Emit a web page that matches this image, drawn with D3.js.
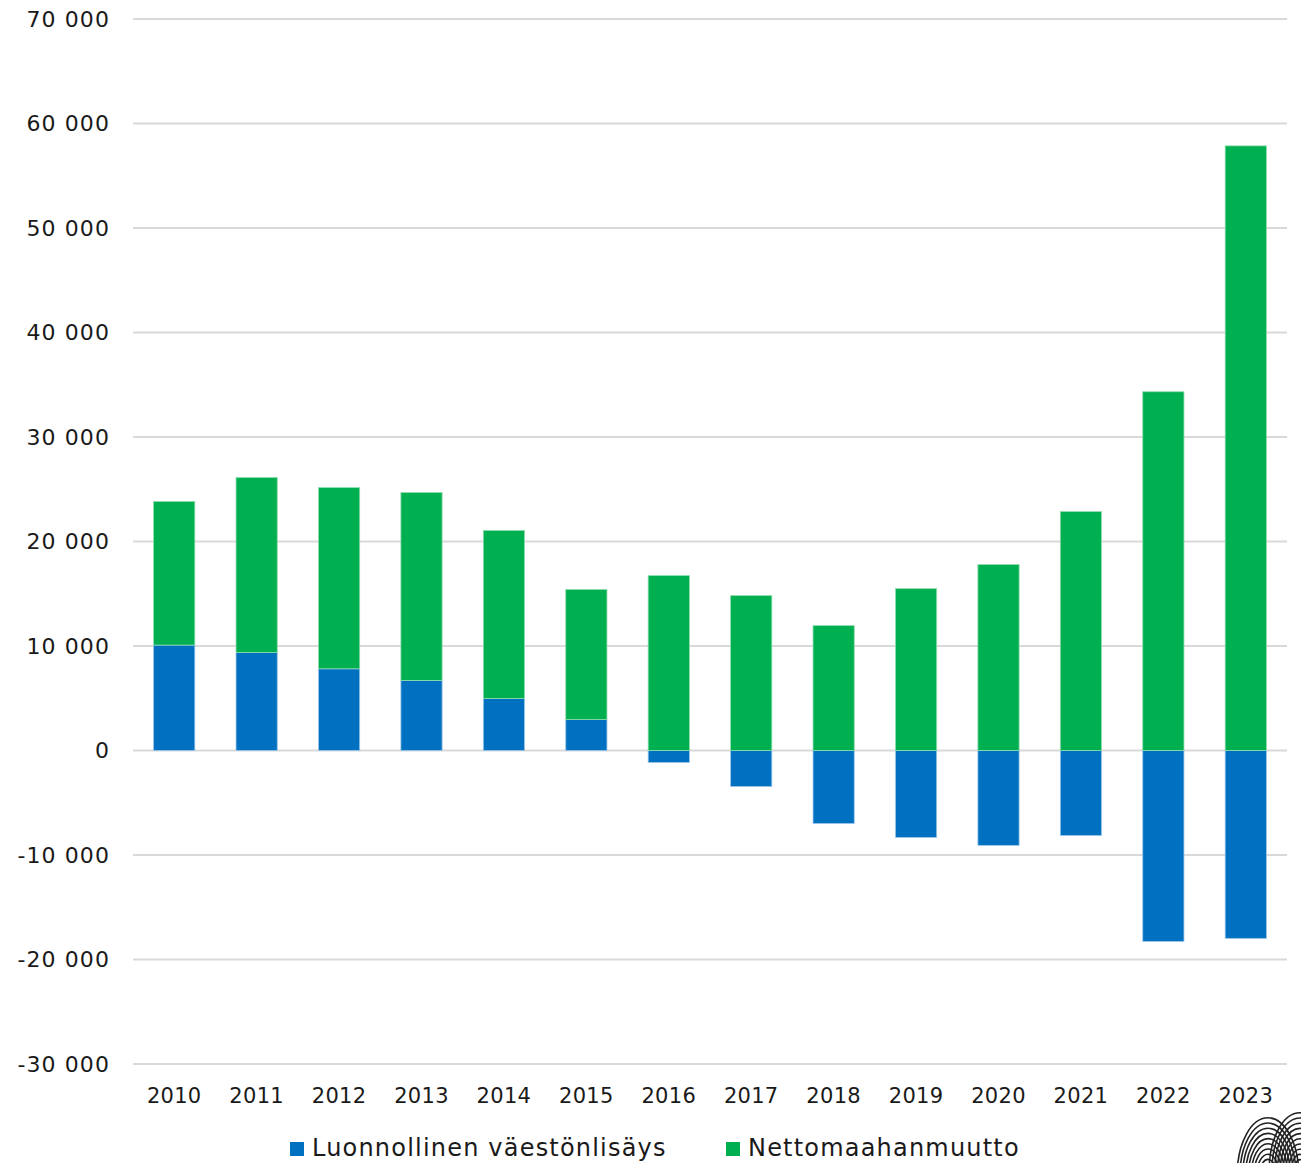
<!DOCTYPE html>
<html><head><meta charset="utf-8">
<script src="https://cdn.jsdelivr.net/npm/d3@7"></script>
<style>body{margin:0;background:#fff}svg{display:block}text{font-family:"DejaVu Sans",sans-serif;fill:#1a1a1a}</style>
</head><body>
<svg id="c" width="1301" height="1163"></svg>
<script>
const years = ["2010","2011","2012","2013","2014","2015","2016","2017","2018","2019","2020","2021","2022","2023"];
const natural = [10090, 9370, 7820, 6700, 4970, 2960, -1150, -3440, -6990, -8320, -9080, -8130, -18270, -17980];
const migration = [13740, 16750, 17340, 17990, 16080, 12450, 16740, 14820, 11950, 15490, 17790, 22860, 34330, 57860];
const yTicks = [-30000,-20000,-10000,0,10000,20000,30000,40000,50000,60000,70000];
const seriesNames = ["Luonnollinen väestönlisäys","Nettomaahanmuutto"];
const colors = ["#0070c0","#00b050"];

const svg = d3.select("#c");
const x = d3.scaleBand().domain(years).range([133,1287]).paddingInner(0.5).paddingOuter(0.25);
const y = d3.scaleLinear().domain([-30000,70000]).range([1064,19]);
const fmt = v => d3.format(",")(v).replace(/,/g," ").replace("\u2212","-");

// gridlines
svg.append("g").selectAll("line").data(yTicks).join("line")
  .attr("x1",133).attr("x2",1287).attr("y1",d=>y(d)).attr("y2",d=>y(d))
  .attr("stroke","#d9d9d9").attr("stroke-width",2);
svg.append("g").selectAll("text").data(yTicks).join("text")
  .attr("x",110).attr("y",d=>y(d)).attr("dy","0.35em").attr("text-anchor","end")
  .attr("font-size",22).attr("letter-spacing",1.1).text(d=>fmt(d));

// bars
const data = years.map((yr,i)=>({yr, n:natural[i], m:migration[i]}));
const g = svg.append("g");
data.forEach(d=>{
  const n0 = 0, n1 = d.n;
  const m0 = d.n>0 ? d.n : 0, m1 = m0 + d.m;
  g.append("rect").attr("x",x(d.yr)).attr("width",x.bandwidth())
    .attr("y",y(Math.max(n0,n1))).attr("height",Math.abs(y(n0)-y(n1)))
    .attr("fill",colors[0]).attr("stroke","#9cc6ea").attr("stroke-width",0.8);
  g.append("rect").attr("x",x(d.yr)).attr("width",x.bandwidth())
    .attr("y",y(m1)).attr("height",y(m0)-y(m1))
    .attr("fill",colors[1]).attr("stroke","#8fdcae").attr("stroke-width",0.8);
});

// x labels
svg.append("g").selectAll("text").data(years).join("text")
  .attr("x",d=>x(d)+x.bandwidth()/2).attr("y",1096).attr("dy","0.35em")
  .attr("text-anchor","middle").attr("font-size",21).attr("letter-spacing",0.3).text(d=>d);

// legend
const leg = svg.append("g");
const lx = [290,726];
seriesNames.forEach((s,i)=>{
  leg.append("rect").attr("x",lx[i]).attr("y",1142).attr("width",14).attr("height",14).attr("fill",colors[i]);
  leg.append("text").attr("x",lx[i]+22).attr("y",1156).attr("font-size",24).attr("letter-spacing",1.2).text(s);
});

// decorative fingerprint mark (bottom right)
svg.append("clipPath").attr("id","fpclip").append("rect").attr("x",1230).attr("y",1100).attr("width",71).attr("height",63);
const fp = svg.append("g").attr("clip-path","url(#fpclip)");
[[1268,1175],[1300,1170]].forEach(([cx,cy])=>{
  d3.range(4,46,4).forEach(r=>{
    fp.append("ellipse").attr("cx",cx).attr("cy",cy).attr("rx",r*0.7).attr("ry",r*1.3)
      .attr("fill","none").attr("stroke","#222").attr("stroke-width",1.6);
  });
});
</script>
</body></html>
